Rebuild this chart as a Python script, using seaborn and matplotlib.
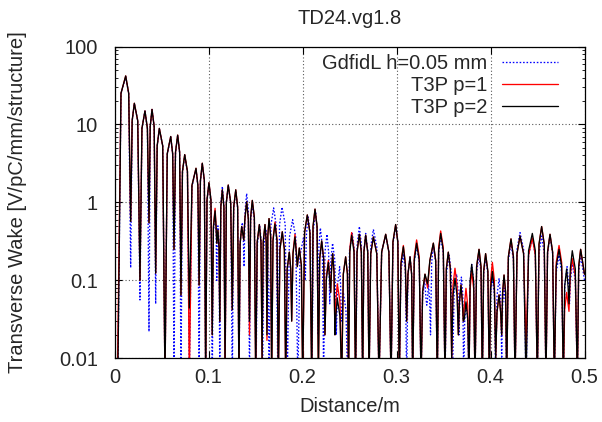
#!/usr/bin/env python3
"""
Transverse wake of the TD24.vg1.8 structure: GdfidL vs T3P (p=1, p=2).

Log-scale |wake| against distance behind the drive bunch, gnuplot look.
"""
import pandas as pd
import seaborn as sns
import matplotlib.pyplot as plt
from matplotlib.ticker import FixedLocator, FixedFormatter, LogLocator, NullFormatter

TITLE  = "TD24.vg1.8"
XLABEL = "Distance/m"
YLABEL = "Transverse Wake [V/pC/mm/structure]"

X_TICKS       = [0, 0.1, 0.2, 0.3, 0.4, 0.5]
X_TICK_LABELS = ["0", "0.1", "0.2", "0.3", "0.4", "0.5"]
Y_TICKS       = [0.01, 0.1, 1, 10, 100]
Y_TICK_LABELS = ["0.01", "0.1", "1", "10", "100"]

# -----------------------------------------------------------------------
# (distance [m], |wake|).
#   *_NODES     : nulls and lobe maxima in turn. Nulls that dive under the
#                 0.01 floor are put at 0.005 so the line leaves the axes.
#   *_SHOULDERS : points on the flanks of each lobe, so the lobes come
#                 out as rounded arches rather than spikes.
# -----------------------------------------------------------------------
GDFIDL_NODES = [
    (0.0035, 0.005), (0.0119, 41.0), (0.0172, 0.145), (0.0211, 18.5),
    (0.0271, 0.056), (0.0324, 14.8), (0.0367, 0.022), (0.0399, 15.5),
    (0.0438, 0.05), (0.0477, 8.8), (0.0537, 0.005), (0.0598, 6.9),
    (0.0633, 0.005), (0.0672, 7.2), (0.0707, 0.005), (0.0747, 4.0),
    (0.0796, 0.005), (0.0867, 2.7), (0.0900, 0.005), (0.0934, 3.1),
    (0.0970, 0.005), (0.1005, 1.75), (0.1040, 0.005), (0.1070, 0.70),
    (0.1088, 0.10), (0.1100, 0.50), (0.1120, 0.005), (0.1147, 1.6),
    (0.1176, 0.005), (0.1210, 1.65), (0.1253, 0.005), (0.1290, 1.4),
    (0.1324, 0.005), (0.1360, 0.55), (0.1378, 0.15), (0.1406, 1.3),
    (0.1436, 0.005), (0.1466, 0.95), (0.1505, 0.005), (0.1545, 0.50),
    (0.1575, 0.005), (0.1610, 0.45), (0.1645, 0.005), (0.1693, 0.85),
    (0.1738, 0.005), (0.1782, 0.87), (0.1838, 0.005), (0.1895, 0.60),
    (0.1950, 0.005), (0.2010, 0.35), (0.2030, 0.10), (0.2060, 0.65),
    (0.2100, 0.005), (0.2140, 0.75), (0.2165, 0.02), (0.2190, 0.47),
    (0.2225, 0.005), (0.2260, 0.39), (0.2290, 0.05), (0.2320, 0.30),
    (0.2360, 0.02), (0.2395, 0.15), (0.2412, 0.03), (0.2434, 0.07),
    (0.2480, 0.005), (0.2530, 0.40), (0.2566, 0.005), (0.2605, 0.49),
    (0.2640, 0.005), (0.2672, 0.40), (0.2708, 0.005), (0.2754, 0.45),
    (0.2814, 0.005), (0.2885, 0.38), (0.2942, 0.005), (0.2995, 0.50),
    (0.3030, 0.005), (0.3073, 0.22), (0.3108, 0.005), (0.3144, 0.20),
    (0.3172, 0.005), (0.3214, 0.28), (0.3261, 0.005), (0.3300, 0.10),
    (0.3322, 0.048), (0.3340, 0.09), (0.3362, 0.02), (0.3392, 0.28),
    (0.3434, 0.005), (0.3470, 0.37), (0.3516, 0.005), (0.3560, 0.21),
    (0.3595, 0.005), (0.3640, 0.12), (0.3665, 0.02), (0.3690, 0.11),
    (0.3715, 0.005), (0.3740, 0.05), (0.3771, 0.005), (0.3800, 0.16),
    (0.3835, 0.005), (0.3878, 0.21), (0.3913, 0.005), (0.3948, 0.20),
    (0.3988, 0.005), (0.4020, 0.11), (0.4055, 0.005), (0.4091, 0.105),
    (0.4119, 0.01), (0.4144, 0.08), (0.4172, 0.005), (0.4218, 0.30),
    (0.4261, 0.005), (0.4314, 0.41), (0.4378, 0.005), (0.4445, 0.35),
    (0.4498, 0.005), (0.4544, 0.37), (0.4590, 0.005), (0.4633, 0.37),
    (0.4679, 0.005), (0.4729, 0.21), (0.4775, 0.005), (0.4815, 0.15),
    (0.4840, 0.05), (0.4870, 0.17), (0.4924, 0.005), (0.4959, 0.21),
    (0.5000, 0.10),
]
GDFIDL_SHOULDERS = [
    (0.0069, 24.6), (0.0151, 24.6), (0.0188, 11.1), (0.0247, 11.1),
    (0.0292, 8.9), (0.0350, 8.9), (0.0380, 9.3), (0.0422, 9.3),
    (0.0454, 5.3), (0.0513, 5.3), (0.0561, 4.1), (0.0619, 4.1),
    (0.0649, 4.3), (0.0693, 4.3), (0.0723, 2.4), (0.0776, 2.4),
    (0.0824, 1.6), (0.0887, 1.6), (0.0914, 1.86), (0.0956, 1.86),
    (0.0984, 1.05), (0.1026, 1.05), (0.1052, 0.42), (0.1081, 0.42),
    (0.1093, 0.30), (0.1112, 0.30), (0.1131, 0.96), (0.1164, 0.96),
    (0.1190, 0.99), (0.1236, 0.99), (0.1268, 0.84), (0.1310, 0.84),
    (0.1338, 0.33), (0.1371, 0.33), (0.1389, 0.78), (0.1424, 0.78),
    (0.1448, 0.57), (0.1489, 0.57), (0.1521, 0.30), (0.1563, 0.30),
    (0.1589, 0.27), (0.1631, 0.27), (0.1664, 0.51), (0.1720, 0.51),
    (0.1756, 0.52), (0.1816, 0.52), (0.1861, 0.36), (0.1928, 0.36),
    (0.1974, 0.21), (0.2022, 0.21), (0.2042, 0.39), (0.2084, 0.39),
    (0.2116, 0.45), (0.2155, 0.45), (0.2175, 0.28), (0.2211, 0.28),
    (0.2239, 0.23), (0.2278, 0.23), (0.2302, 0.18), (0.2344, 0.18),
    (0.2374, 0.09), (0.2405, 0.09), (0.2421, 0.042), (0.2462, 0.042),
    (0.2500, 0.24), (0.2552, 0.24), (0.2582, 0.29), (0.2626, 0.29),
    (0.2653, 0.24), (0.2694, 0.24), (0.2726, 0.27), (0.2790, 0.27),
    (0.2842, 0.23), (0.2919, 0.23), (0.2963, 0.30), (0.3016, 0.30),
    (0.3047, 0.13), (0.3094, 0.13), (0.3122, 0.12), (0.3161, 0.12),
    (0.3189, 0.17), (0.3242, 0.17), (0.3277, 0.06), (0.3313, 0.06),
    (0.3329, 0.054), (0.3353, 0.054), (0.3374, 0.17), (0.3417, 0.17),
    (0.3448, 0.22), (0.3498, 0.22), (0.3534, 0.13), (0.3581, 0.13),
    (0.3613, 0.072), (0.3655, 0.072), (0.3675, 0.066), (0.3705, 0.066),
    (0.3725, 0.03), (0.3759, 0.03), (0.3783, 0.096), (0.3821, 0.096),
    (0.3852, 0.126), (0.3899, 0.126), (0.3927, 0.12), (0.3972, 0.12),
    (0.4001, 0.066), (0.4041, 0.066), (0.4069, 0.063), (0.4108, 0.063),
    (0.4129, 0.048), (0.4161, 0.048), (0.4190, 0.18), (0.4244, 0.18),
    (0.4282, 0.25), (0.4352, 0.25), (0.4405, 0.21), (0.4477, 0.21),
    (0.4516, 0.22), (0.4572, 0.22), (0.4607, 0.22), (0.4661, 0.22),
    (0.4699, 0.126), (0.4757, 0.126), (0.4791, 0.09), (0.4830, 0.09),
    (0.4852, 0.10), (0.4902, 0.10), (0.4938, 0.126),
]

T3P_P1_NODES = [
    (0.0030, 0.005), (0.0119, 41.9), (0.0172, 0.57), (0.0211, 18.7),
    (0.0271, 0.10), (0.0324, 14.9), (0.0367, 0.55), (0.0399, 15.6),
    (0.0438, 0.124), (0.0477, 8.9), (0.0537, 0.005), (0.0598, 7.0),
    (0.0633, 0.25), (0.0672, 7.3), (0.0707, 0.065), (0.0747, 4.1),
    (0.0796, 0.005), (0.0867, 2.74), (0.0900, 0.087), (0.0934, 3.18),
    (0.0970, 0.005), (0.1005, 1.79), (0.1040, 0.02), (0.1070, 0.84),
    (0.1088, 0.30), (0.1100, 0.44), (0.1120, 0.03), (0.1147, 1.45),
    (0.1176, 0.005), (0.1210, 1.67), (0.1253, 0.042), (0.1290, 1.45),
    (0.1324, 0.005), (0.1353, 0.49), (0.1375, 0.33), (0.1406, 1.02),
    (0.1436, 0.02), (0.1466, 1.06), (0.1502, 0.005), (0.1541, 0.52),
    (0.1570, 0.01), (0.1601, 0.52), (0.1622, 0.017), (0.1644, 0.62),
    (0.1672, 0.005), (0.1707, 0.56), (0.1743, 0.005), (0.1785, 0.42),
    (0.1821, 0.005), (0.1860, 0.23), (0.1885, 0.03), (0.1920, 0.39),
    (0.1945, 0.15), (0.1966, 0.26), (0.2002, 0.005), (0.2051, 0.69),
    (0.2098, 0.005), (0.2133, 0.82), (0.2169, 0.006), (0.2204, 0.32),
    (0.2239, 0.02), (0.2275, 0.18), (0.2300, 0.07), (0.2321, 0.22),
    (0.2345, 0.02), (0.2370, 0.09), (0.2417, 0.005), (0.2459, 0.20),
    (0.2490, 0.005), (0.2523, 0.41), (0.2564, 0.005), (0.2605, 0.39),
    (0.2640, 0.005), (0.2672, 0.38), (0.2708, 0.005), (0.2754, 0.36),
    (0.2814, 0.005), (0.2885, 0.39), (0.2942, 0.005), (0.2991, 0.52),
    (0.3030, 0.005), (0.3073, 0.28), (0.3108, 0.03), (0.3144, 0.20),
    (0.3172, 0.005), (0.3214, 0.33), (0.3261, 0.005), (0.3303, 0.12),
    (0.3331, 0.08), (0.3392, 0.30), (0.3434, 0.005), (0.3470, 0.43),
    (0.3516, 0.005), (0.3551, 0.23), (0.3587, 0.01), (0.3622, 0.143),
    (0.3658, 0.02), (0.3686, 0.087), (0.3711, 0.03), (0.3739, 0.079),
    (0.3771, 0.005), (0.3800, 0.13), (0.3835, 0.005), (0.3878, 0.25),
    (0.3913, 0.005), (0.3948, 0.22), (0.3988, 0.005), (0.4020, 0.17),
    (0.4055, 0.01), (0.4091, 0.065), (0.4119, 0.02), (0.4144, 0.117),
    (0.4172, 0.005), (0.4218, 0.34), (0.4261, 0.005), (0.4314, 0.37),
    (0.4378, 0.014), (0.4445, 0.35), (0.4498, 0.005), (0.4544, 0.49),
    (0.4590, 0.005), (0.4633, 0.39), (0.4679, 0.005), (0.4729, 0.28),
    (0.4775, 0.005), (0.4810, 0.07), (0.4835, 0.04), (0.4870, 0.19),
    (0.4924, 0.005), (0.4959, 0.25), (0.5000, 0.12),
]
T3P_P1_SHOULDERS = [
    (0.0069, 25.1), (0.0151, 25.1), (0.0188, 11.2), (0.0247, 11.2),
    (0.0292, 8.9), (0.0350, 8.9), (0.0380, 9.4), (0.0422, 9.4),
    (0.0454, 5.3), (0.0513, 5.3), (0.0561, 4.2), (0.0619, 4.2),
    (0.0649, 4.4), (0.0693, 4.4), (0.0723, 2.5), (0.0776, 2.5),
    (0.0824, 1.65), (0.0887, 1.65), (0.0914, 1.9), (0.0956, 1.9),
    (0.0984, 1.07), (0.1026, 1.07), (0.1052, 0.5), (0.1081, 0.5),
    (0.1112, 0.26), (0.1131, 0.87), (0.1164, 0.87), (0.1190, 1.0),
    (0.1236, 1.0), (0.1268, 0.87), (0.1310, 0.87), (0.1336, 0.29),
    (0.1387, 0.61), (0.1424, 0.61), (0.1448, 0.64), (0.1488, 0.64),
    (0.1518, 0.31), (0.1558, 0.31), (0.1582, 0.31), (0.1614, 0.31),
    (0.1631, 0.37), (0.1661, 0.37), (0.1686, 0.34), (0.1729, 0.34),
    (0.1760, 0.25), (0.1807, 0.25), (0.1837, 0.14), (0.1875, 0.14),
    (0.1899, 0.23), (0.1935, 0.23), (0.1988, 0.156), (0.2022, 0.41),
    (0.2079, 0.41), (0.2112, 0.49), (0.2155, 0.49), (0.2183, 0.19),
    (0.2225, 0.19), (0.2253, 0.11), (0.2290, 0.11), (0.2308, 0.13),
    (0.2335, 0.13), (0.2355, 0.054), (0.2398, 0.054), (0.2434, 0.12),
    (0.2478, 0.12), (0.2503, 0.25), (0.2548, 0.25), (0.2580, 0.23),
    (0.2626, 0.23), (0.2653, 0.23), (0.2694, 0.23), (0.2726, 0.22),
    (0.2790, 0.22), (0.2842, 0.23), (0.2919, 0.23), (0.2962, 0.31),
    (0.3014, 0.31), (0.3047, 0.17), (0.3094, 0.17), (0.3122, 0.12),
    (0.3161, 0.12), (0.3189, 0.20), (0.3242, 0.20), (0.3278, 0.072),
    (0.3355, 0.18), (0.3417, 0.18), (0.3448, 0.26), (0.3498, 0.26),
    (0.3530, 0.14), (0.3573, 0.14), (0.3601, 0.086), (0.3644, 0.086),
    (0.3669, 0.052), (0.3701, 0.052), (0.3722, 0.047), (0.3758, 0.047),
    (0.3783, 0.078), (0.3821, 0.078), (0.3852, 0.15), (0.3899, 0.15),
    (0.3927, 0.13), (0.3972, 0.13), (0.4001, 0.10), (0.4041, 0.10),
    (0.4069, 0.039), (0.4108, 0.039), (0.4129, 0.07), (0.4161, 0.07),
    (0.4190, 0.20), (0.4244, 0.20), (0.4282, 0.22), (0.4352, 0.22),
    (0.4405, 0.21), (0.4477, 0.21), (0.4516, 0.29), (0.4572, 0.29),
    (0.4607, 0.23), (0.4661, 0.23), (0.4699, 0.17), (0.4757, 0.17),
    (0.4789, 0.042), (0.4849, 0.114), (0.4902, 0.114), (0.4938, 0.15),
]

T3P_P2_NODES = [
    (0.0035, 0.005), (0.0119, 41.9), (0.0172, 0.57), (0.0211, 18.7),
    (0.0271, 0.10), (0.0324, 14.9), (0.0367, 0.55), (0.0399, 15.6),
    (0.0438, 0.124), (0.0477, 8.9), (0.0537, 0.005), (0.0598, 7.0),
    (0.0633, 0.25), (0.0672, 7.3), (0.0707, 0.065), (0.0747, 4.1),
    (0.0796, 0.044), (0.0867, 2.74), (0.0900, 0.087), (0.0934, 3.18),
    (0.0970, 0.005), (0.1005, 1.79), (0.1040, 0.02), (0.1070, 0.78),
    (0.1088, 0.30), (0.1100, 0.44), (0.1120, 0.03), (0.1147, 1.45),
    (0.1176, 0.008), (0.1210, 1.67), (0.1253, 0.042), (0.1290, 1.45),
    (0.1324, 0.005), (0.1353, 0.49), (0.1375, 0.33), (0.1406, 1.02),
    (0.1436, 0.03), (0.1466, 1.06), (0.1502, 0.005), (0.1541, 0.52),
    (0.1570, 0.01), (0.1601, 0.52), (0.1622, 0.02), (0.1644, 0.62),
    (0.1672, 0.005), (0.1707, 0.53), (0.1743, 0.005), (0.1785, 0.42),
    (0.1821, 0.005), (0.1860, 0.23), (0.1885, 0.03), (0.1920, 0.36),
    (0.1945, 0.15), (0.1966, 0.26), (0.2002, 0.005), (0.2051, 0.69),
    (0.2098, 0.005), (0.2133, 0.82), (0.2169, 0.006), (0.2204, 0.32),
    (0.2239, 0.02), (0.2275, 0.17), (0.2300, 0.07), (0.2321, 0.22),
    (0.2345, 0.02), (0.2370, 0.059), (0.2417, 0.005), (0.2459, 0.20),
    (0.2490, 0.005), (0.2523, 0.38), (0.2564, 0.005), (0.2605, 0.39),
    (0.2640, 0.005), (0.2672, 0.38), (0.2708, 0.005), (0.2754, 0.36),
    (0.2814, 0.005), (0.2885, 0.39), (0.2942, 0.005), (0.2991, 0.52),
    (0.3030, 0.005), (0.3073, 0.27), (0.3108, 0.03), (0.3144, 0.20),
    (0.3172, 0.005), (0.3214, 0.30), (0.3261, 0.005), (0.3303, 0.12),
    (0.3331, 0.09), (0.3392, 0.30), (0.3434, 0.005), (0.3470, 0.40),
    (0.3516, 0.005), (0.3551, 0.23), (0.3587, 0.01), (0.3622, 0.106),
    (0.3658, 0.02), (0.3686, 0.087), (0.3711, 0.03), (0.3739, 0.053),
    (0.3771, 0.005), (0.3800, 0.16), (0.3835, 0.005), (0.3878, 0.25),
    (0.3913, 0.005), (0.3948, 0.22), (0.3988, 0.005), (0.4020, 0.13),
    (0.4055, 0.01), (0.4091, 0.065), (0.4119, 0.02), (0.4144, 0.117),
    (0.4172, 0.005), (0.4218, 0.34), (0.4261, 0.005), (0.4314, 0.37),
    (0.4378, 0.005), (0.4445, 0.40), (0.4498, 0.005), (0.4544, 0.49),
    (0.4590, 0.005), (0.4633, 0.39), (0.4679, 0.005), (0.4729, 0.25),
    (0.4775, 0.005), (0.4810, 0.14), (0.4835, 0.05), (0.4870, 0.24),
    (0.4924, 0.005), (0.4959, 0.25), (0.5000, 0.12),
]
T3P_P2_SHOULDERS = [
    (0.0069, 25.1), (0.0151, 25.1), (0.0188, 11.2), (0.0247, 11.2),
    (0.0292, 8.9), (0.0350, 8.9), (0.0380, 9.4), (0.0422, 9.4),
    (0.0454, 5.3), (0.0513, 5.3), (0.0561, 4.2), (0.0619, 4.2),
    (0.0649, 4.4), (0.0693, 4.4), (0.0723, 2.5), (0.0776, 2.5),
    (0.0824, 1.65), (0.0887, 1.65), (0.0914, 1.9), (0.0956, 1.9),
    (0.0984, 1.07), (0.1026, 1.07), (0.1052, 0.47), (0.1081, 0.47),
    (0.1112, 0.26), (0.1131, 0.87), (0.1164, 0.87), (0.1190, 1.0),
    (0.1236, 1.0), (0.1268, 0.87), (0.1310, 0.87), (0.1336, 0.29),
    (0.1387, 0.61), (0.1424, 0.61), (0.1448, 0.64), (0.1488, 0.64),
    (0.1518, 0.31), (0.1558, 0.31), (0.1582, 0.31), (0.1614, 0.31),
    (0.1631, 0.37), (0.1661, 0.37), (0.1686, 0.32), (0.1729, 0.32),
    (0.1760, 0.25), (0.1807, 0.25), (0.1837, 0.14), (0.1875, 0.14),
    (0.1899, 0.22), (0.1935, 0.22), (0.1988, 0.156), (0.2022, 0.41),
    (0.2079, 0.41), (0.2112, 0.49), (0.2155, 0.49), (0.2183, 0.19),
    (0.2225, 0.19), (0.2253, 0.10), (0.2290, 0.10), (0.2308, 0.13),
    (0.2335, 0.13), (0.2355, 0.035), (0.2398, 0.035), (0.2434, 0.12),
    (0.2478, 0.12), (0.2503, 0.23), (0.2548, 0.23), (0.2580, 0.23),
    (0.2626, 0.23), (0.2653, 0.23), (0.2694, 0.23), (0.2726, 0.22),
    (0.2790, 0.22), (0.2842, 0.23), (0.2919, 0.23), (0.2962, 0.31),
    (0.3014, 0.31), (0.3047, 0.16), (0.3094, 0.16), (0.3122, 0.12),
    (0.3161, 0.12), (0.3189, 0.18), (0.3242, 0.18), (0.3278, 0.072),
    (0.3355, 0.18), (0.3417, 0.18), (0.3448, 0.24), (0.3498, 0.24),
    (0.3530, 0.14), (0.3573, 0.14), (0.3601, 0.064), (0.3644, 0.064),
    (0.3669, 0.052), (0.3701, 0.052), (0.3722, 0.032), (0.3758, 0.032),
    (0.3783, 0.096), (0.3821, 0.096), (0.3852, 0.15), (0.3899, 0.15),
    (0.3927, 0.13), (0.3972, 0.13), (0.4001, 0.078), (0.4041, 0.078),
    (0.4069, 0.039), (0.4108, 0.039), (0.4129, 0.07), (0.4161, 0.07),
    (0.4190, 0.20), (0.4244, 0.20), (0.4282, 0.22), (0.4352, 0.22),
    (0.4405, 0.24), (0.4477, 0.24), (0.4516, 0.29), (0.4572, 0.29),
    (0.4607, 0.23), (0.4661, 0.23), (0.4699, 0.15), (0.4757, 0.15),
    (0.4789, 0.084), (0.4825, 0.084), (0.4849, 0.14), (0.4902, 0.14),
    (0.4938, 0.15),
]

# label, nodes, shoulders, colour, line style -- drawn in order, black on top
SERIES = [
    ("GdfidL h=0.05 mm", GDFIDL_NODES, GDFIDL_SHOULDERS, "#0000ff", (0, (1.2, 1.4))),
    ("T3P p=1",          T3P_P1_NODES, T3P_P1_SHOULDERS, "#ff0000", "-"),
    ("T3P p=2",          T3P_P2_NODES, T3P_P2_SHOULDERS, "#000000", "-"),
]

FONT_SIZE = 14.5


def trace(nodes: list, shoulders: list) -> pd.DataFrame:
    """Merge the read-off nodes and shoulder points into one trace."""
    df = pd.DataFrame(nodes + shoulders, columns=["distance", "wake"])
    return df.sort_values("distance").reset_index(drop=True)


def plot_wake(ax: plt.Axes):
    for label, nodes, shoulders, color, ls in SERIES:
        sns.lineplot(
            data=trace(nodes, shoulders), x="distance", y="wake", ax=ax,
            color=color, linestyle=ls, linewidth=0.95,
            label=label, estimator=None, sort=False,
        )

    ax.set_yscale("log")
    ax.set_xlim(0, 0.5)
    ax.set_ylim(0.01, 100)

    ax.xaxis.set_major_locator(FixedLocator(X_TICKS))
    ax.xaxis.set_major_formatter(FixedFormatter(X_TICK_LABELS))
    ax.yaxis.set_major_locator(FixedLocator(Y_TICKS))
    ax.yaxis.set_major_formatter(FixedFormatter(Y_TICK_LABELS))
    ax.yaxis.set_minor_locator(LogLocator(base=10, subs=range(2, 10)))
    ax.yaxis.set_minor_formatter(NullFormatter())

    ax.tick_params(which="both", direction="in", top=True, right=True,
                   labelsize=FONT_SIZE, color="black")
    ax.tick_params(which="major", length=5, width=0.8)
    ax.tick_params(which="minor", length=2.5, width=0.6)
    ax.tick_params(axis="x", pad=7)
    ax.tick_params(axis="y", pad=12)

    ax.grid(which="major", color="0.35", linestyle=(0, (1, 2)), linewidth=0.8)
    for spine in ax.spines.values():
        spine.set_color("black")
        spine.set_linewidth(0.9)

    ax.set_title(TITLE, fontsize=FONT_SIZE, pad=16)
    ax.set_xlabel(XLABEL, fontsize=FONT_SIZE, labelpad=7)
    ax.set_ylabel(YLABEL, fontsize=FONT_SIZE)
    ax.yaxis.set_label_coords(-0.186, 0.5)

    ax.legend(
        loc="upper right", bbox_to_anchor=(0.944, 0.976),
        frameon=False, markerfirst=False, fontsize=FONT_SIZE,
        handlelength=2.8, handletextpad=0.7, labelspacing=0.14,
        borderpad=0, borderaxespad=0,
    )


def main():
    sns.set_style("ticks")
    plt.rcParams["font.family"] = ["Liberation Sans", "DejaVu Sans"]

    fig = plt.figure(figsize=(6.02, 4.22), dpi=100)
    ax = fig.add_axes([114.5 / 602, 1 - 358.3 / 422, 470 / 602, 311.8 / 422])
    plot_wake(ax)
    fig.savefig("out.png", dpi=100)
    plt.close(fig)


if __name__ == "__main__":
    main()
